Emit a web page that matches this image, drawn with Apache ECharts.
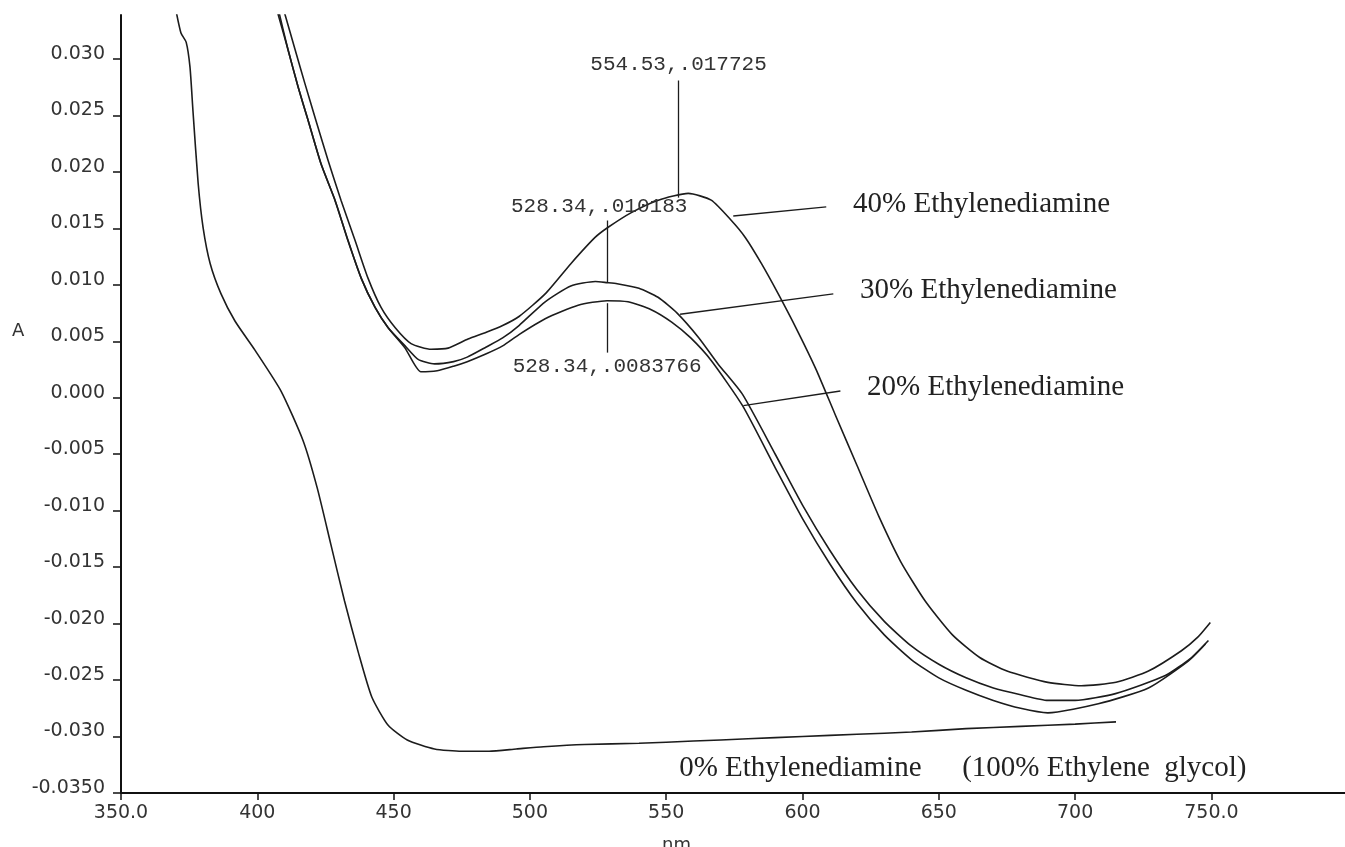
<!doctype html>
<html lang="en">

<head>
    <meta charset="UTF-8">
    <title>Ethylenediamine spectra</title>
    <style>
        html, body { margin: 0; padding: 0; background: #fff; }
    </style>
</head>

<body>
    <div id="main" style="width: 1345px;height:847px;"></div>
    <script src="https://cdn.jsdelivr.net/npm/echarts@6.0.0/dist/echarts.min.js"></script>
    <script>
        // tick labels
        var xTicks = [350, 400, 450, 500, 550, 600, 650, 700, 750];
        var yTicks = [-0.035, -0.03, -0.025, -0.02, -0.015, -0.01, -0.005, 0, 0.005, 0.01, 0.015, 0.02, 0.025, 0.03];

        // 0% Ethylenediamine (100% ethylene glycol)
        var nm0 = [370.0, 372.0, 373.9, 375.3, 376.4, 378.3, 380.1, 382.7, 386.7, 391.8, 399.2, 408.7, 416.8, 422, 427, 432, 437, 442, 448, 455, 465, 475, 485, 495, 505, 520, 540, 560, 580, 600, 620, 640, 660, 680, 700, 715];
        var abs0 = [0.0345, 0.0323, 0.0315, 0.0293, 0.0254, 0.0190, 0.0151, 0.0119, 0.0092, 0.0068, 0.0042, 0.0006, -0.0038, -0.0080, -0.0130, -0.0180, -0.0225, -0.0265, -0.0290, -0.0303, -0.0311, -0.0313, -0.0313, -0.0311, -0.0309, -0.0307, -0.0306, -0.0304, -0.0302, -0.0300, -0.0298, -0.0296, -0.0293, -0.0291, -0.0289, -0.0287];

        // 20% Ethylenediamine
        var nm20 = [407.0, 411.3, 415, 418.6, 423.4, 428.5, 433.3, 438.1, 443.2, 448, 454.2, 460, 466, 472, 477, 484, 490, 496, 505.6, 517.7, 528.3, 536, 544.5, 552, 559, 566.5, 578, 590, 600, 610, 620, 630, 640, 650, 660, 670, 680, 690, 708.5, 726.9, 741.6, 747.8];
        var abs20 = [0.0345, 0.0308, 0.0275, 0.0246, 0.0207, 0.0175, 0.0139, 0.0106, 0.0080, 0.0062, 0.0044, 0.0023, 0.0024, 0.0028, 0.0032, 0.0039, 0.0046, 0.0056, 0.0070, 0.0082, 0.0086, 0.0085, 0.0078, 0.0067, 0.0053, 0.0033, -0.0007, -0.0062, -0.0107, -0.0147, -0.0182, -0.0210, -0.0232, -0.0248, -0.0259, -0.0268, -0.0275, -0.0279, -0.0271, -0.0257, -0.0233, -0.0218];

        // 30% Ethylenediamine
        var nm30 = [407.6, 411.3, 415, 418.6, 423.4, 428.5, 433.3, 438.1, 443.2, 448, 454.2, 459, 465, 472, 477, 484, 490, 496, 505.6, 515, 524, 528.3, 532, 540, 547, 554, 562, 569, 578, 590, 600, 610, 620, 630, 640, 650, 660, 670, 680, 690, 700, 714.8, 733.1, 742.7, 748.9];
        var abs30 = [0.0345, 0.0308, 0.0275, 0.0246, 0.0207, 0.0175, 0.0139, 0.0106, 0.0080, 0.0062, 0.0046, 0.0034, 0.0030, 0.0032, 0.0036, 0.0045, 0.0053, 0.0064, 0.0085, 0.0099, 0.0103, 0.0102, 0.0101, 0.0097, 0.0089, 0.0075, 0.0053, 0.0030, 0.0003, -0.0050, -0.0095, -0.0135, -0.0170, -0.0198, -0.0220, -0.0236, -0.0248, -0.0257, -0.0263, -0.0268, -0.0268, -0.0262, -0.0246, -0.0230, -0.0215];

        // 40% Ethylenediamine
        var nm40 = [409.5, 413.9, 417.5, 421.2, 426.0, 430.7, 435.9, 440.6, 445.4, 450.6, 456.4, 463.8, 470.0, 477.3, 484, 490, 496, 505.6, 515.1, 523.9, 528.7, 537.2, 547.1, 558.1, 566.5, 573.9, 579.0, 584.9, 591.1, 598, 605, 612, 620, 628, 636, 645, 655, 665, 675, 690, 702.3, 715, 726.9, 739.0, 745, 749.6];
        var abs40 = [0.0345, 0.0308, 0.0278, 0.0248, 0.0210, 0.0175, 0.0139, 0.0106, 0.0080, 0.0062, 0.0048, 0.0043, 0.0044, 0.0052, 0.0058, 0.0064, 0.0072, 0.0092, 0.0119, 0.0142, 0.0151, 0.0164, 0.0175, 0.0181, 0.0175, 0.0157, 0.0142, 0.0119, 0.0092, 0.0060, 0.0025, -0.0015, -0.0060, -0.0105, -0.0145, -0.0180, -0.0210, -0.0230, -0.0242, -0.0252, -0.0255, -0.0252, -0.0242, -0.0224, -0.0212, -0.0199];

        // peak read-outs printed by the instrument
        var peakNm = [554.53, 528.34, 528.34];
        var peakAbs = [0.017725, 0.010183, 0.0083766];
        var peakText = ['554.53,.017725', '528.34,.010183', '528.34,.0083766'];

        var ink = '#1c1c1c';
        var serif = 'Liberation Serif';

        function pairs(xs, ys) {
            return xs.map(function (x, i) { return [x, ys[i]]; });
        }

        function peakLine(i, endAbs, dist, offset) {
            return [
                { coord: [peakNm[i], peakAbs[i]] },
                {
                    coord: [peakNm[i], endAbs],
                    label: {
                        show: true, position: 'end', formatter: peakText[i],
                        fontFamily: 'Liberation Mono', fontSize: 21, color: '#333',
                        distance: dist, offset: offset || [0, 0]
                    }
                }
            ];
        }

        function leader(x1, y1, x2, y2, text) {
            return [
                { coord: [x1, y1] },
                {
                    coord: [x2, y2],
                    label: {
                        show: true, position: 'end', formatter: text,
                        fontFamily: serif, fontSize: 29, color: '#222', distance: 27
                    }
                }
            ];
        }

        function marks(data) {
            return {
                silent: true, symbol: 'none', animation: false,
                lineStyle: { color: ink, width: 1.3, type: 'solid' },
                data: data
            };
        }

        var lineBase = {
            type: 'line', showSymbol: false, smooth: 0.2, animation: false,
            lineStyle: { color: ink, width: 1.6 }
        };

        var myChart = echarts.init(document.getElementById('main'));

        var option = {
            backgroundColor: '#fff',
            grid: { left: 121, right: 0, top: 15, bottom: 54 },
            xAxis: {
                type: 'value', min: 350, max: 799,
                axisLine: { onZero: false, lineStyle: { color: '#111', width: 2 } },
                axisTick: { customValues: xTicks, length: 7, lineStyle: { color: '#111', width: 1.5 } },
                axisLabel: {
                    customValues: xTicks, margin: 11, color: '#333',
                    fontFamily: 'DejaVu Sans', fontSize: 19,
                    formatter: function (v) { return (v === 350 || v === 750) ? v.toFixed(1) : String(v); }
                },
                splitLine: { show: false }
            },
            yAxis: {
                type: 'value', min: -0.035, max: 0.0339,
                axisLine: { show: true, onZero: false, lineStyle: { color: '#111', width: 2 } },
                axisTick: { show: true, customValues: yTicks, length: 8, lineStyle: { color: '#111', width: 1.5 } },
                axisLabel: {
                    customValues: yTicks, margin: 16, color: '#333',
                    verticalAlign: 'bottom', lineHeight: 10,
                    fontFamily: 'DejaVu Sans', fontSize: 19,
                    formatter: function (v) { return v < -0.0349 ? '-0.0350' : v.toFixed(3); }
                },
                splitLine: { show: false }
            },
            graphic: [
                { type: 'text', left: 12, top: 322, style: { text: 'A', font: '18px "DejaVu Sans"', fill: '#333' } },
                { type: 'text', left: 662, top: 836, style: { text: 'nm', font: '18px "DejaVu Sans"', fill: '#333' } }
            ],
            series: [
                Object.assign({}, lineBase, {
                    name: '0% Ethylenediamine',
                    data: pairs(nm0, abs0),
                    markPoint: {
                        silent: true, symbolSize: 0, animation: false,
                        label: { show: true, position: 'inside', fontFamily: serif, fontSize: 29, color: '#222' },
                        data: [
                            { coord: [599.2, -0.0328], label: { formatter: '0% Ethylenediamine' } },
                            { coord: [710.7, -0.0328], label: { formatter: '(100% Ethylene  glycol)' } }
                        ]
                    }
                }),
                Object.assign({}, lineBase, {
                    name: '20% Ethylenediamine',
                    data: pairs(nm20, abs20),
                    markLine: marks([
                        peakLine(2, 0.0040, 3),
                        leader(578.3, -0.0007, 613.9, 0.0006, '20% Ethylenediamine')
                    ])
                }),
                Object.assign({}, lineBase, {
                    name: '30% Ethylenediamine',
                    data: pairs(nm30, abs30),
                    markLine: marks([
                        peakLine(1, 0.0157, 4, [-8, 0]),
                        leader(555.1, 0.0074, 611.3, 0.0092, '30% Ethylenediamine')
                    ])
                }),
                Object.assign({}, lineBase, {
                    name: '40% Ethylenediamine',
                    data: pairs(nm40, abs40),
                    markLine: marks([
                        peakLine(0, 0.0281, 6),
                        leader(574.6, 0.0161, 608.7, 0.0169, '40% Ethylenediamine')
                    ])
                })
            ]
        };

        myChart.setOption(option);
    </script>
</body>

</html>
